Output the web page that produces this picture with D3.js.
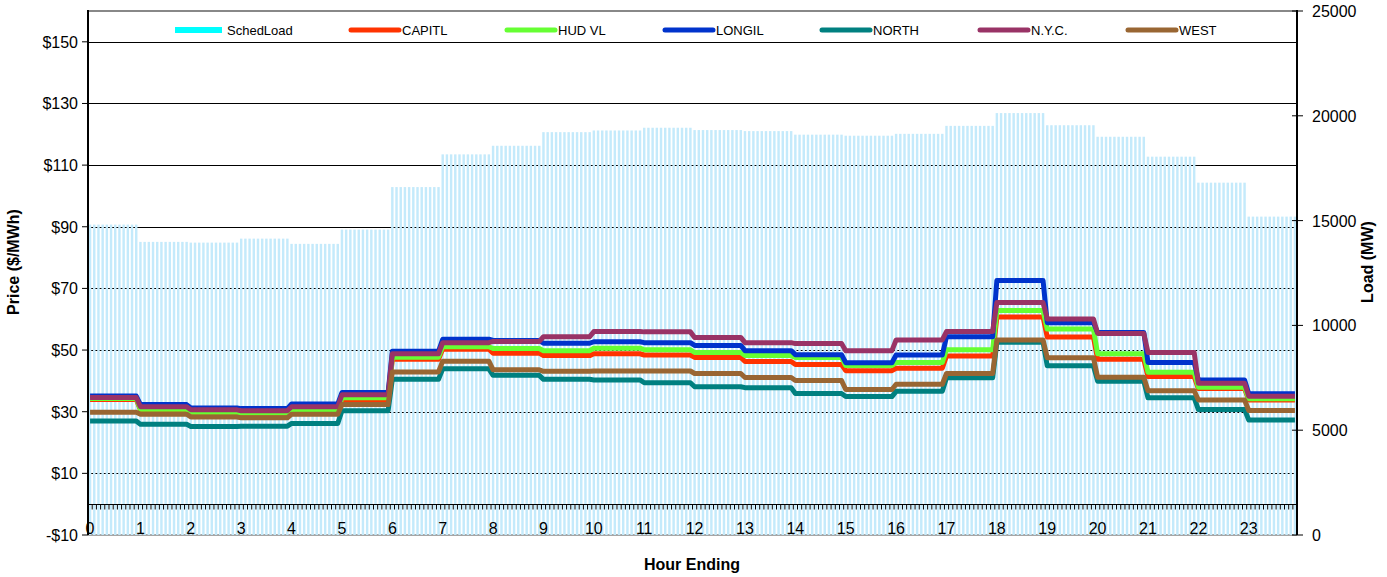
<!DOCTYPE html>
<html>
<head>
<meta charset="utf-8">
<script src="https://cdn.jsdelivr.net/npm/d3@7"></script>
<style>
  html, body { margin: 0; padding: 0; background: #fff; }
  svg { display: block; font-family: "Liberation Sans", Arial, sans-serif; }
</style>
</head>
<body>
<svg id="chart" width="1387" height="577"></svg>
<script>
// ---- Data (hourly values) ----
const hours = d3.range(24);                       // hour-ending index 0..23
const intervalsPerHour = 12;                      // 5-minute intervals
const xTickLabels = ["0","1","2","3","4","5","6","7","8","9","10","11","12","13","14","15","16","17","18","19","20","21","22","23"];
const priceTicks = [-10, 10, 30, 50, 70, 90, 110, 130, 150];
const loadTicks = [0, 5000, 10000, 15000, 20000, 25000];

const schedLoad = [14810, 13985, 13950, 14140, 13890, 14570, 16600, 18160, 18570, 19220, 19300, 19430,
                   19320, 19270, 19100, 19050, 19140, 19520, 20130, 19550, 19000, 18050, 16810, 15190];
const capitl = [34.0, 30.6, 29.4, 29.0, 30.3, 33.8, 47.0, 50.3, 49.0, 48.2, 48.8, 48.4,
                47.6, 46.3, 45.3, 43.3, 44.1, 48.1, 60.7, 54.2, 47.0, 41.4, 37.5, 33.8];
const hudvl  = [34.3, 30.8, 29.8, 29.6, 30.6, 34.5, 47.7, 51.1, 50.5, 49.8, 50.6, 50.1,
                49.2, 48.2, 47.6, 45.0, 46.0, 50.1, 62.8, 56.8, 48.8, 42.8, 37.9, 34.2];
const longil = [35.1, 32.3, 31.2, 31.0, 32.5, 36.2, 49.6, 53.5, 53.1, 52.2, 52.7, 52.4,
                51.5, 49.8, 48.5, 45.9, 48.4, 54.3, 72.6, 58.9, 55.7, 46.0, 40.3, 35.8];
const north  = [27.0, 25.9, 25.2, 25.3, 26.2, 30.3, 40.5, 43.9, 41.8, 40.5, 40.3, 39.4,
                38.1, 37.8, 35.9, 34.9, 36.6, 41.0, 52.5, 44.9, 39.9, 34.5, 30.7, 27.3];
const nyc    = [34.6, 31.6, 30.6, 30.3, 31.6, 35.5, 48.8, 52.4, 52.8, 54.3, 56.0, 55.9,
                54.1, 52.4, 52.1, 49.8, 53.3, 56.0, 65.4, 60.1, 55.4, 49.2, 39.2, 35.0];
const west   = [29.8, 29.2, 28.3, 28.0, 29.2, 32.3, 42.9, 46.4, 43.6, 43.1, 43.2, 43.2,
                42.4, 41.1, 40.1, 37.2, 38.9, 42.4, 53.3, 47.5, 41.2, 36.8, 33.8, 30.4];

const seriesNames = ["CAPITL", "HUD VL", "LONGIL", "NORTH", "N.Y.C.", "WEST"];
const seriesValues = [capitl, hudvl, longil, north, nyc, west];
const seriesColors = ["#ff3300", "#66ff33", "#0033cc", "#008080", "#993366", "#996633"];
const loadColor = "#c4eafb";
const loadLegendColor = "#00ffff";

// ---- Layout ----
const L = 88, R = 1297, T = 11, B = 535;
const svg = d3.select("#chart");

// Each hourly value applies to its twelve 5-minute intervals
const idx = d3.range(hours.length * intervalsPerHour);
const hourOf = i => Math.floor(i / intervalsPerHour);

const x = d3.scaleBand().domain(idx).range([L, R]).paddingInner(0.42).paddingOuter(0.2);
const xc = i => x(i) + x.bandwidth() / 2;
const yP = d3.scaleLinear().domain([-10, 160]).range([B, T]);
const yL = d3.scaleLinear().domain([0, 25000]).range([B, T]);

// plot border (grey) top and bottom
svg.append("line").attr("x1", L).attr("x2", R).attr("y1", T).attr("y2", T)
  .attr("stroke", "#888").attr("stroke-width", 2);
svg.append("line").attr("x1", L).attr("x2", R).attr("y1", B).attr("y2", B)
  .attr("stroke", "#888").attr("stroke-width", 1.5);

// gridlines (under the bars)
svg.append("g").selectAll("line").data(priceTicks.filter(v => v > -10)).join("line")
  .attr("x1", L).attr("x2", R)
  .attr("y1", d => Math.round(yP(d)) + 0.5).attr("y2", d => Math.round(yP(d)) + 0.5)
  .attr("stroke", "#000").attr("stroke-width", 1);

// load bars
svg.append("g").selectAll("rect").data(idx).join("rect")
  .attr("x", d => x(d)).attr("width", x.bandwidth())
  .attr("y", d => yL(schedLoad[hourOf(d)]))
  .attr("height", d => B - yL(schedLoad[hourOf(d)]))
  .attr("fill", loadColor);

// category axis at price 0
const y0 = Math.round(yP(0)) + 0.5;
svg.append("line").attr("x1", L).attr("x2", R).attr("y1", y0).attr("y2", y0)
  .attr("stroke", "#000").attr("stroke-width", 1.2);
svg.append("g").selectAll("line").data(d3.range(idx.length + 1)).join("line")
  .attr("x1", d => L + d * x.step()).attr("x2", d => L + d * x.step())
  .attr("y1", y0).attr("y2", y0 + 5)
  .attr("stroke", "#000").attr("stroke-width", 1);
svg.append("g").selectAll("text").data(xTickLabels).join("text")
  .attr("x", (d, i) => xc(i * intervalsPerHour))
  .attr("y", B - 1)
  .attr("text-anchor", "middle").attr("font-size", 16).attr("fill", "#000")
  .text(d => d);

// price lines
const line = d3.line().x(d => xc(d.i)).y(d => yP(d.v)).curve(d3.curveLinear);
seriesValues.forEach((vals, k) => {
  const pts = idx.map(i => ({ i, v: vals[hourOf(i)] }));
  svg.append("path").datum(pts).attr("d", line)
    .attr("fill", "none").attr("stroke", seriesColors[k]).attr("stroke-width", 5)
    .attr("stroke-linejoin", "round").attr("stroke-linecap", "butt");
});

// left axis
svg.append("line").attr("x1", L).attr("x2", L).attr("y1", T - 1).attr("y2", B)
  .attr("stroke", "#000").attr("stroke-width", 2);
const gl = svg.append("g");
gl.selectAll("line").data(priceTicks).join("line")
  .attr("x1", L - 6).attr("x2", L).attr("y1", d => yP(d)).attr("y2", d => yP(d))
  .attr("stroke", "#000").attr("stroke-width", 1);
gl.selectAll("text").data(priceTicks).join("text")
  .attr("x", L - 10).attr("y", d => yP(d) + 6)
  .attr("text-anchor", "end").attr("font-size", 16).attr("fill", "#000")
  .text(d => (d < 0 ? "-$" + Math.abs(d) : "$" + d));

// right axis
svg.append("line").attr("x1", R).attr("x2", R).attr("y1", T - 1).attr("y2", B)
  .attr("stroke", "#000").attr("stroke-width", 2);
const gr = svg.append("g");
gr.selectAll("line").data(loadTicks).join("line")
  .attr("x1", R - 5).attr("x2", R + 6).attr("y1", d => yL(d)).attr("y2", d => yL(d))
  .attr("stroke", "#000").attr("stroke-width", 1);
gr.selectAll("text").data(loadTicks).join("text")
  .attr("x", R + 15).attr("y", d => yL(d) + 6)
  .attr("text-anchor", "start").attr("font-size", 16).attr("fill", "#000")
  .text(d => d);

// axis titles
svg.append("text").attr("transform", "translate(19,262) rotate(-90)")
  .attr("text-anchor", "middle").attr("font-size", 16).attr("font-weight", "bold")
  .text("Price ($/MWh)");
svg.append("text").attr("transform", "translate(1373,262) rotate(-90)")
  .attr("text-anchor", "middle").attr("font-size", 16).attr("font-weight", "bold")
  .text("Load (MW)");
svg.append("text").attr("x", 692).attr("y", 570)
  .attr("text-anchor", "middle").attr("font-size", 16).attr("font-weight", "bold")
  .text("Hour Ending");

// legend
const legendX = [175, 349, 505, 663, 820, 978, 1126];
const ly = 30;
const lg = svg.append("g");
lg.append("rect").attr("x", legendX[0]).attr("y", ly - 3).attr("width", 47).attr("height", 6)
  .attr("fill", loadLegendColor);
lg.append("text").attr("x", legendX[0] + 52).attr("y", ly + 5).attr("font-size", 13).text("SchedLoad");
seriesNames.forEach((n, k) => {
  const x0 = legendX[k + 1];
  lg.append("line").attr("x1", x0 + 2).attr("x2", x0 + 50).attr("y1", ly).attr("y2", ly)
    .attr("stroke", seriesColors[k]).attr("stroke-width", 5).attr("stroke-linecap", "round");
  lg.append("text").attr("x", x0 + 53).attr("y", ly + 5).attr("font-size", 13).text(n);
});
</script>
</body>
</html>
